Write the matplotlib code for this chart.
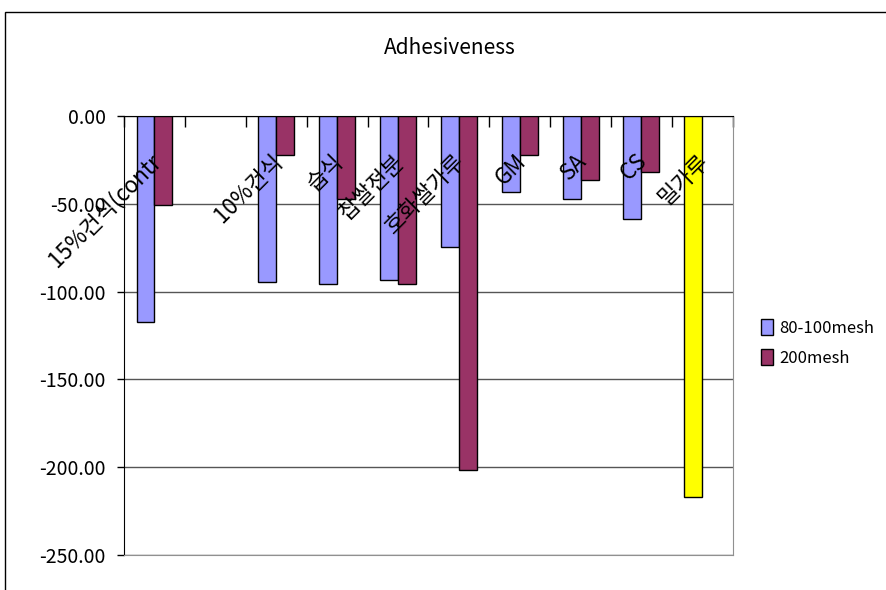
import matplotlib
matplotlib.use('Agg')
import matplotlib.pyplot as plt
from matplotlib.patches import Rectangle
import numpy as np

categories = ['15%건식(contr', '', '10%건식', '습식', '찹쌀전분', '호화쌀가루', 'GM', 'SA', 'CS', '밀가루']
mesh_80_100 = [-117.3, np.nan, -94.5, -95.7, -93.4, -74.6, -43.3, -47.3, -58.7, -217.0]
mesh_200 = [-50.7, np.nan, -22.2, -47.3, -95.7, -201.6, -22.2, -36.4, -31.9, np.nan]
series_names = ['80-100mesh', '200mesh']
y_ticks = [0, -50, -100, -150, -200, -250]

plt.rcParams['font.family'] = ['Noto Sans CJK KR', 'DejaVu Sans']
plt.rcParams['font.size'] = 13

fig = plt.figure(figsize=(8.86, 5.9), dpi=100)
ax = fig.add_axes([0.14, 0.0593, 0.687, 0.744])

x = np.arange(len(categories))
w = 0.295
blue_colors = ['#9999FF'] * len(categories)
blue_colors[-1] = '#FFFF00'
ax.bar(x - w / 2, mesh_80_100, w, color=blue_colors, edgecolor='black', linewidth=1, label=series_names[0], zorder=3)
ax.bar(x + w / 2, mesh_200, w, color='#993366', edgecolor='black', linewidth=1, label=series_names[1], zorder=3)

ax.set_xlim(-0.5, len(categories) - 0.5)
ax.set_ylim(-250, 0)
ax.set_yticks(y_ticks)
ax.set_yticklabels(['%.2f' % v for v in y_ticks], fontsize=14)
ax.yaxis.grid(True, color='#555555', linewidth=1)
ax.set_axisbelow(True)

# category ticks sit on the zero line at the top, between categories
ax.xaxis.tick_top()
ax.set_xticks(np.arange(len(categories) + 1) - 0.5)
ax.set_xticklabels([])
ax.tick_params(axis='x', direction='in', length=8, width=1, top=True, bottom=False)
ax.tick_params(axis='y', direction='out', length=5, width=1, pad=8)

for s in ['right', 'bottom']:
    ax.spines[s].set_color('#909090')
for s in ['left', 'top']:
    ax.spines[s].set_color('black')

for i, lab in enumerate(categories):
    ax.annotate(lab, xy=(i, 1), xycoords=('data', 'axes fraction'),
                xytext=(-4, -24), textcoords='offset points',
                rotation=45, ha='right', va='top', rotation_mode='anchor',
                fontsize=16)

leg = fig.legend(loc='upper left', bbox_to_anchor=(0.842, 0.485), frameon=False,
                 handlelength=0.7, handleheight=1.1, handletextpad=0.4,
                 labelspacing=0.75, fontsize=12)

fig.text(0.508, 0.918, 'Adhesiveness', ha='center', va='center', fontsize=15)

# outer chart-area border, cut by the picture edges
fig.patches.append(Rectangle((5 / 886, -0.1), 1.2, 1 - 12 / 590 + 0.1,
                             transform=fig.transFigure, fill=False,
                             edgecolor='black', linewidth=1))

fig.savefig('out.png', dpi=100)
